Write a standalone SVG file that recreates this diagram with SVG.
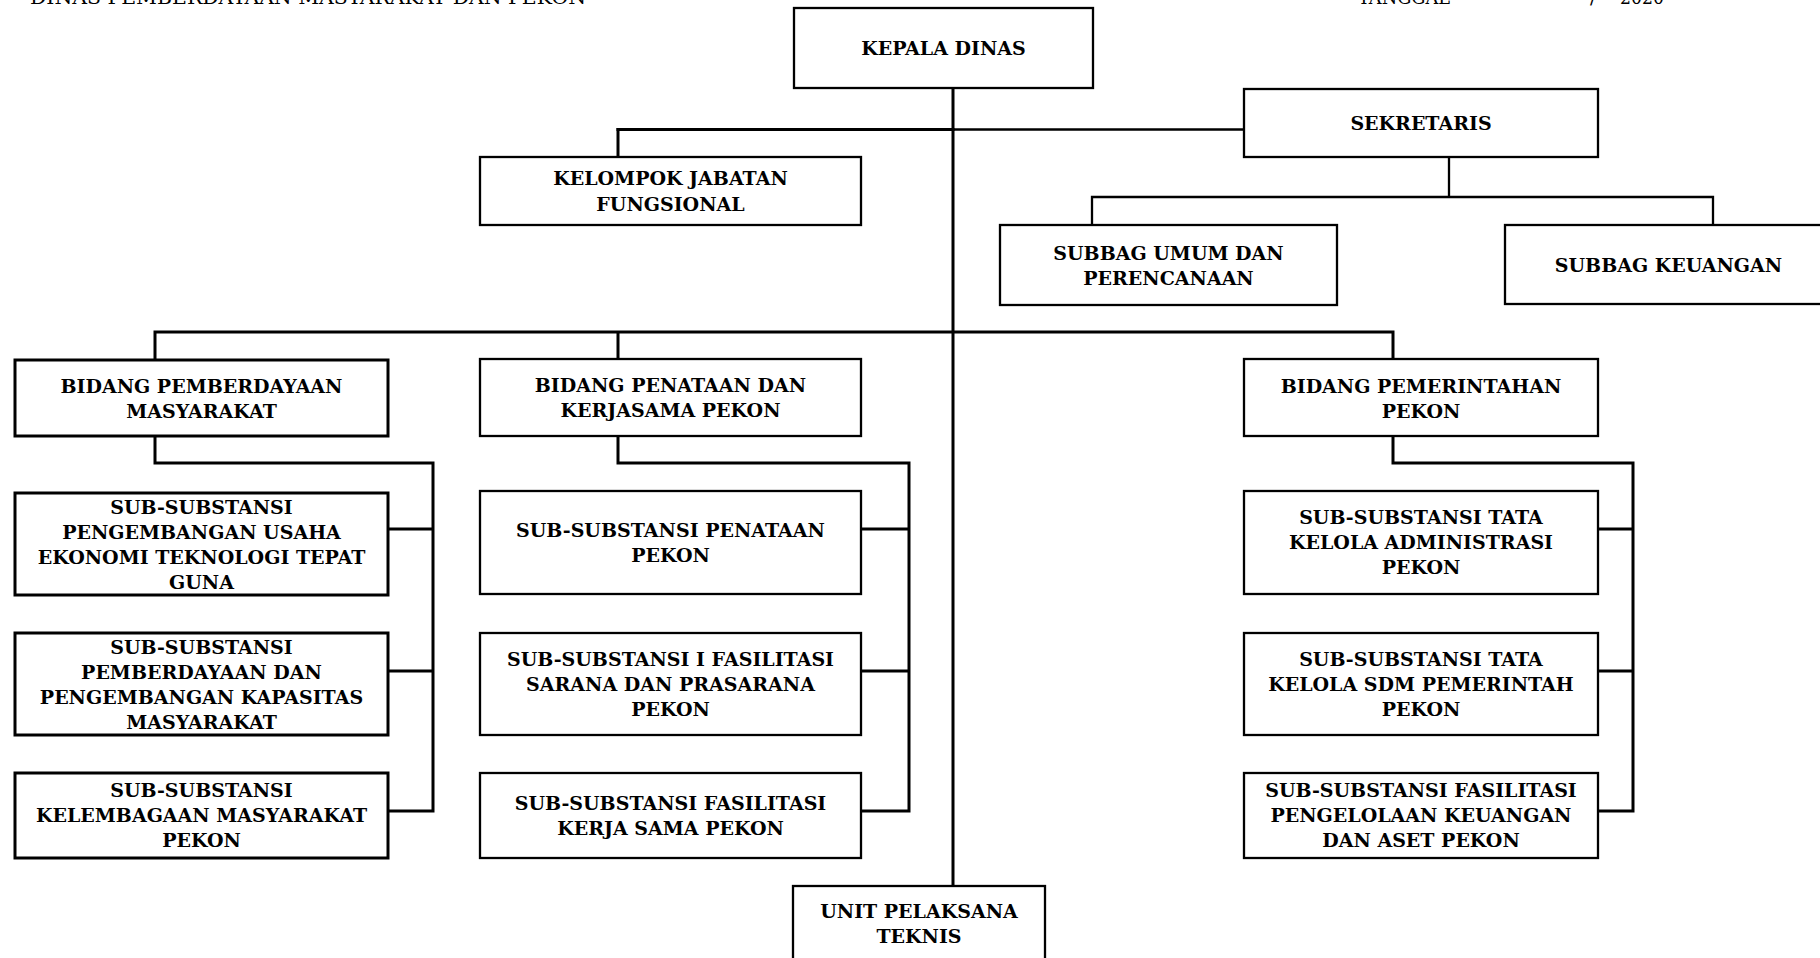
<svg xmlns="http://www.w3.org/2000/svg" width="1820" height="958" viewBox="0 0 1820 958">
<style>
.box{fill:#fff;stroke:#000;stroke-width:2.3}
.thick{stroke-width:3}
.t{font-family:"DejaVu Serif","Liberation Serif",serif;font-weight:bold;font-size:19px;text-anchor:middle;fill:#000}
.h{font-family:"DejaVu Serif","Liberation Serif",serif;font-size:19px;fill:#000}
.ln{stroke:#000;stroke-width:3;fill:none;stroke-linecap:square}
.ln2{stroke-width:2.3}
</style>
<rect width="1820" height="958" fill="#fff"/>
<g id="header">
<text class="h" x="30" y="4" textLength="556" lengthAdjust="spacingAndGlyphs">DINAS PEMBERDAYAAN MASYARAKAT DAN PEKON</text>
<text class="h" x="1358" y="4" textLength="92" lengthAdjust="spacingAndGlyphs">TANGGAL</text>
<text class="h" x="1590" y="4">/</text>
<text class="h" x="1620" y="4" textLength="44" lengthAdjust="spacingAndGlyphs">2020</text>
</g>
<g id="connectors">
<path class="ln" d="M953 88 V886"/>
<path class="ln" d="M618 129.5 H953"/>
<path class="ln ln2" d="M953 129.5 H1244"/>
<path class="ln" d="M618 129.5 V157"/>
<path class="ln ln2" d="M1449 157 V197 M1092 225 V197 H1713 V225"/>
<path class="ln" d="M155 359 V332 H1393 V359 M618 332 V359"/>
<path class="ln" d="M155 436 V463 H433 V811 H388 M388 529 H433 M388 671 H433"/>
<path class="ln" d="M618 436 V463 H909 V811 H861 M861 529 H909 M861 671 H909"/>
<path class="ln" d="M1393 436 V463 H1633 V811 H1598 M1598 529 H1633 M1598 671 H1633"/>
</g>
<g id="kepala-dinas">
<rect class="box" x="794" y="8" width="299" height="80"/>
<text class="t" x="943.5" y="55">KEPALA DINAS</text>
</g>
<g id="kelompok-jabatan-fungsional">
<rect class="box" x="480" y="157" width="381" height="68"/>
<text class="t" x="670.5" y="185">KELOMPOK JABATAN</text>
<text class="t" x="670.5" y="211">FUNGSIONAL</text>
</g>
<g id="sekretaris">
<rect class="box" x="1244" y="89" width="354" height="68"/>
<text class="t" x="1421" y="130">SEKRETARIS</text>
</g>
<g id="subbag-umum">
<rect class="box" x="1000" y="225" width="337" height="80"/>
<text class="t" x="1168.5" y="260">SUBBAG UMUM DAN</text>
<text class="t" x="1168.5" y="285">PERENCANAAN</text>
</g>
<g id="subbag-keuangan">
<rect class="box" x="1505" y="225" width="330" height="79"/>
<text class="t" x="1668.5" y="272">SUBBAG KEUANGAN</text>
</g>
<g id="bidang-pemberdayaan">
<rect class="box thick" x="15" y="360" width="373" height="76"/>
<text class="t" x="201.5" y="393">BIDANG PEMBERDAYAAN</text>
<text class="t" x="201.5" y="418">MASYARAKAT</text>
</g>
<g id="bidang-penataan">
<rect class="box" x="480" y="359" width="381" height="77"/>
<text class="t" x="670.5" y="392">BIDANG PENATAAN DAN</text>
<text class="t" x="670.5" y="417">KERJASAMA PEKON</text>
</g>
<g id="bidang-pemerintahan">
<rect class="box" x="1244" y="359" width="354" height="77"/>
<text class="t" x="1421" y="393">BIDANG PEMERINTAHAN</text>
<text class="t" x="1421" y="418">PEKON</text>
</g>
<g id="sub-usaha-ekonomi">
<rect class="box thick" x="15" y="493" width="373" height="102"/>
<text class="t" x="201.5" y="514">SUB-SUBSTANSI</text>
<text class="t" x="201.5" y="539">PENGEMBANGAN USAHA</text>
<text class="t" x="201.5" y="564">EKONOMI TEKNOLOGI TEPAT</text>
<text class="t" x="201.5" y="589">GUNA</text>
</g>
<g id="sub-kapasitas-masyarakat">
<rect class="box thick" x="15" y="633" width="373" height="102"/>
<text class="t" x="201.5" y="654">SUB-SUBSTANSI</text>
<text class="t" x="201.5" y="679">PEMBERDAYAAN DAN</text>
<text class="t" x="201.5" y="704">PENGEMBANGAN KAPASITAS</text>
<text class="t" x="201.5" y="729">MASYARAKAT</text>
</g>
<g id="sub-kelembagaan">
<rect class="box thick" x="15" y="773" width="373" height="85"/>
<text class="t" x="201.5" y="797">SUB-SUBSTANSI</text>
<text class="t" x="201.5" y="822">KELEMBAGAAN MASYARAKAT</text>
<text class="t" x="201.5" y="847">PEKON</text>
</g>
<g id="sub-penataan-pekon">
<rect class="box" x="480" y="491" width="381" height="103"/>
<text class="t" x="670.5" y="537">SUB-SUBSTANSI PENATAAN</text>
<text class="t" x="670.5" y="562">PEKON</text>
</g>
<g id="sub-sarana-prasarana">
<rect class="box" x="480" y="633" width="381" height="102"/>
<text class="t" x="670.5" y="666">SUB-SUBSTANSI I FASILITASI</text>
<text class="t" x="670.5" y="691">SARANA DAN PRASARANA</text>
<text class="t" x="670.5" y="716">PEKON</text>
</g>
<g id="sub-kerja-sama">
<rect class="box" x="480" y="773" width="381" height="85"/>
<text class="t" x="670.5" y="810">SUB-SUBSTANSI FASILITASI</text>
<text class="t" x="670.5" y="835">KERJA SAMA PEKON</text>
</g>
<g id="sub-administrasi">
<rect class="box" x="1244" y="491" width="354" height="103"/>
<text class="t" x="1421" y="524">SUB-SUBSTANSI TATA</text>
<text class="t" x="1421" y="549">KELOLA ADMINISTRASI</text>
<text class="t" x="1421" y="574">PEKON</text>
</g>
<g id="sub-sdm">
<rect class="box" x="1244" y="633" width="354" height="102"/>
<text class="t" x="1421" y="666">SUB-SUBSTANSI TATA</text>
<text class="t" x="1421" y="691">KELOLA SDM PEMERINTAH</text>
<text class="t" x="1421" y="716">PEKON</text>
</g>
<g id="sub-keuangan-aset">
<rect class="box" x="1244" y="773" width="354" height="85"/>
<text class="t" x="1421" y="797">SUB-SUBSTANSI FASILITASI</text>
<text class="t" x="1421" y="822">PENGELOLAAN KEUANGAN</text>
<text class="t" x="1421" y="847">DAN ASET PEKON</text>
</g>
<g id="unit-pelaksana-teknis">
<rect class="box" x="793" y="886" width="252" height="80"/>
<text class="t" x="919" y="918">UNIT PELAKSANA</text>
<text class="t" x="919" y="943">TEKNIS</text>
</g>
</svg>
